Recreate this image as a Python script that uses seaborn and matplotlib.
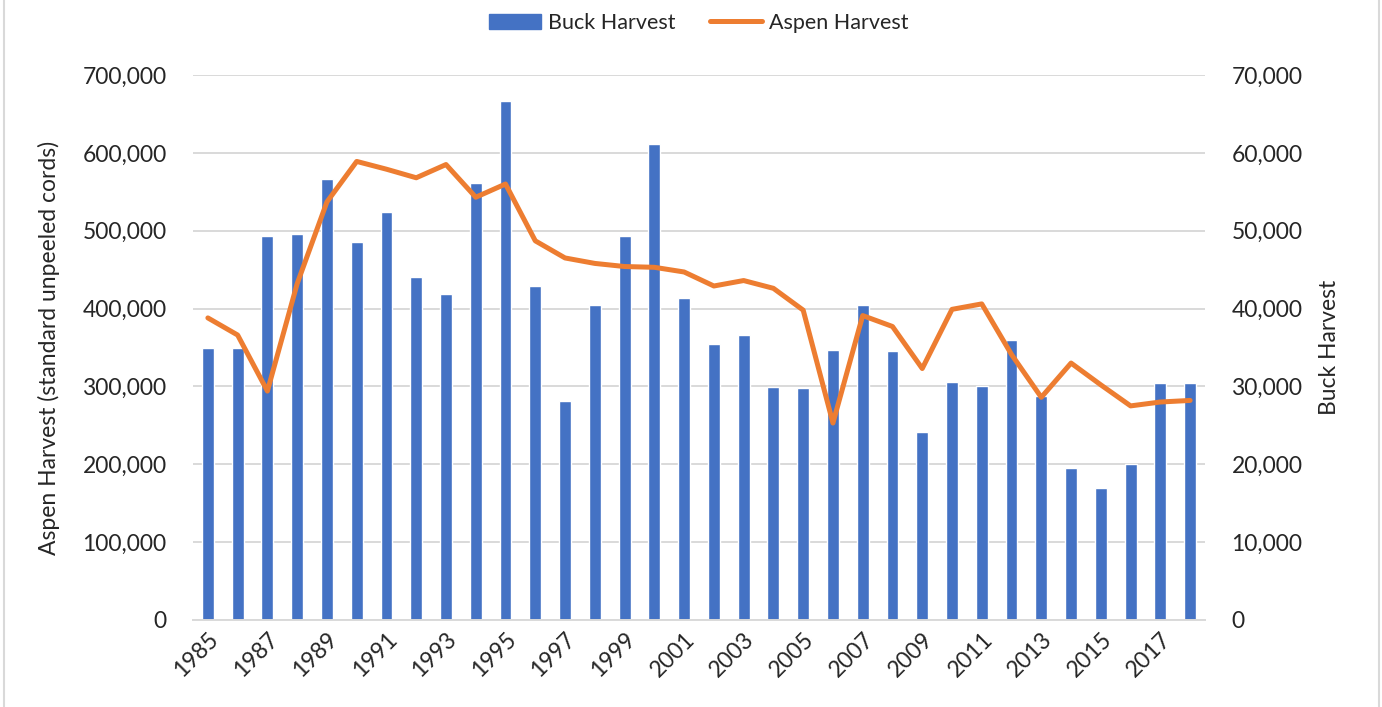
import numpy as np
import pandas as pd
import matplotlib
matplotlib.use("Agg")
import matplotlib.pyplot as plt
import seaborn as sns
from matplotlib.ticker import FuncFormatter
from matplotlib.lines import Line2D

years = list(range(1985, 2019))

# buck harvest (right axis)
buck = [34900, 34900, 49300, 49600, 56600, 48500, 52400, 44000, 41900, 56100,
        66600, 42900, 28100, 40400, 49300, 61200, 41300, 35500, 36600, 29900,
        29800, 34700, 40500, 34500, 24200, 30600, 30000, 35900, 28800, 19500,
        17000, 20000, 30500, 30500]

# aspen harvest, standard unpeeled cords (left axis)
aspen = [388000, 366000, 294000, 432000, 537000, 589000, 579000, 568000, 585000, 543000,
         560000, 487000, 465000, 458000, 454000, 453000, 447000, 429000, 436000, 426000,
         398000, 253000, 391000, 377000, 323000, 399000, 406000, 341000, 286000, 330000,
         302000, 275000, 280000, 282000]

df = pd.DataFrame({'year': years, 'buck': buck, 'aspen': aspen})

sns.set_style("white")
plt.rcParams['font.family'] = ['Lato', 'DejaVu Sans']

bar_col = '#4472C4'
line_col = '#ED7D31'
grid_col = '#d9d9d9'
fs = 16.5

fig = plt.figure(figsize=(13.82, 7.07), dpi=100)
ax = fig.add_axes([193/1382, 87/707, (1205-193)/1382, (620-75)/707])
ax2 = ax.twinx()

# bars on the base axes (drawn underneath), scale shown on the right
sns.barplot(data=df, x='year', y='buck', native_scale=True, color=bar_col,
            width=0.4, saturation=1, ax=ax)
ax.set_ylim(0, 70000)
ax.set_yticks(np.arange(0, 70001, 10000))
ax.grid(axis='y', color=grid_col, lw=1.4)
ax.set_axisbelow(True)

# line on the twin axes (drawn on top), scale shown on the left
sns.lineplot(data=df, x='year', y='aspen', color=line_col, lw=3.6, ax=ax2,
             solid_capstyle='round', solid_joinstyle='round')
ax2.set_ylim(0, 700000)
ax2.set_yticks(np.arange(0, 700001, 100000))

ax.yaxis.tick_right()
ax.yaxis.set_label_position('right')
ax2.yaxis.tick_left()
ax2.yaxis.set_label_position('left')
ax.set_ylabel('Buck Harvest', fontsize=fs, labelpad=12)
ax2.set_ylabel('Aspen Harvest (standard unpeeled cords)', fontsize=fs, labelpad=16)

fmt = FuncFormatter(lambda v, p: f'{int(v):,}')
for a in (ax, ax2):
    a.yaxis.set_major_formatter(fmt)
    a.tick_params(axis='y', length=0, pad=19, labelsize=fs)
    for s in a.spines.values():
        s.set_visible(False)
ax2.spines['bottom'].set_visible(True)
ax2.spines['bottom'].set_color(grid_col)
ax2.spines['bottom'].set_linewidth(1.4)

ax.set_xlim(1984.5, 2018.5)
ax.set_xticks(years[::2])
ax.set_xticklabels([str(y) for y in years[::2]], rotation=45, ha='right',
                   rotation_mode='anchor', fontsize=fs)
ax.tick_params(axis='x', length=0, pad=6)
ax.set_xlabel('')
ax2.set_xlabel('')

handles = [plt.Rectangle((0, 0), 1, 1, color=bar_col),
           Line2D([0], [0], color=line_col, lw=3.6, solid_capstyle='round')]
fig.legend(handles, ['Buck Harvest', 'Aspen Harvest'], loc='center',
           bbox_to_anchor=(699/1382, 1 - 23/707), ncol=2, frameon=False,
           fontsize=15.5, handlelength=2.4, handletextpad=0.35, columnspacing=1.6)

# thin frame lines at the left and right edges of the picture
fig.add_artist(Line2D([4/1382, 4/1382], [0, 1], color=grid_col, lw=1.5))
fig.add_artist(Line2D([1379/1382, 1379/1382], [0, 1], color=grid_col, lw=1.5))

fig.savefig('out.png', dpi=100)
